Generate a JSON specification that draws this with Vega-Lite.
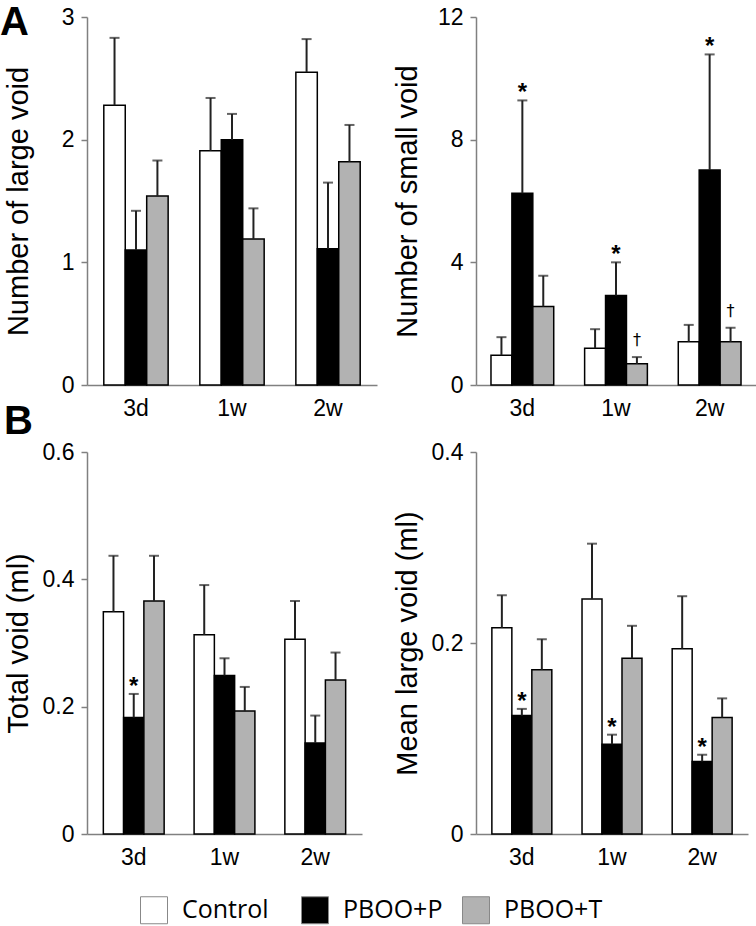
{
  "$schema": "https://vega.github.io/schema/vega-lite/v6.json",
  "padding": {"top": 3, "left": 0, "right": 0, "bottom": 0},
  "background": "white",
  "config": {
    "view": {"stroke": null},
    "font": "Liberation Sans",
    "axis": {
      "labelFont": "Liberation Sans",
      "labelFontSize": 23,
      "labelColor": "black",
      "titleFont": "Liberation Sans",
      "titleFontSize": 29,
      "titleFontWeight": "normal",
      "titleColor": "black",
      "domainColor": "#808080",
      "domainWidth": 1.5,
      "tickColor": "#808080",
      "tickWidth": 1.5,
      "grid": false
    },
    "axisX": {"ticks": false, "labelAngle": 0, "labelPadding": 12, "title": null},
    "axisY": {"tickSize": 6, "labelPadding": 7, "minExtent": 40, "maxExtent": 40, "titlePadding": 14, "format": "~g"},
    "legend": {
      "orient": "none",
      "legendX": 53,
      "legendY": 879,
      "direction": "horizontal",
      "title": null,
      "symbolType": "square",
      "symbolSize": 729,
      "symbolStrokeColor": "#888888",
      "symbolStrokeWidth": 1,
      "labelFont": "Open Sans",
      "labelFontSize": 25,
      "labelColor": "black",
      "labelOffset": 14,
      "columnPadding": 17,
      "gridAlign": "all"
    },
    "title": {"font": "Liberation Sans", "fontSize": 40, "fontWeight": "bold", "color": "black"}
  },
  "data": {
    "values": [
      {"metric": "large", "time": "3d", "group": "Control", "mean": 2.28, "upper": 2.83, "sig": ""},
      {"metric": "large", "time": "3d", "group": "PBOO+P", "mean": 1.10, "upper": 1.42, "sig": ""},
      {"metric": "large", "time": "3d", "group": "PBOO+T", "mean": 1.54, "upper": 1.83, "sig": ""},
      {"metric": "large", "time": "1w", "group": "Control", "mean": 1.91, "upper": 2.34, "sig": ""},
      {"metric": "large", "time": "1w", "group": "PBOO+P", "mean": 2.00, "upper": 2.21, "sig": ""},
      {"metric": "large", "time": "1w", "group": "PBOO+T", "mean": 1.19, "upper": 1.44, "sig": ""},
      {"metric": "large", "time": "2w", "group": "Control", "mean": 2.55, "upper": 2.82, "sig": ""},
      {"metric": "large", "time": "2w", "group": "PBOO+P", "mean": 1.11, "upper": 1.65, "sig": ""},
      {"metric": "large", "time": "2w", "group": "PBOO+T", "mean": 1.82, "upper": 2.12, "sig": ""},
      {"metric": "small", "time": "3d", "group": "Control", "mean": 0.97, "upper": 1.56, "sig": ""},
      {"metric": "small", "time": "3d", "group": "PBOO+P", "mean": 6.25, "upper": 9.28, "sig": "*"},
      {"metric": "small", "time": "3d", "group": "PBOO+T", "mean": 2.56, "upper": 3.56, "sig": ""},
      {"metric": "small", "time": "1w", "group": "Control", "mean": 1.20, "upper": 1.82, "sig": ""},
      {"metric": "small", "time": "1w", "group": "PBOO+P", "mean": 2.92, "upper": 4.00, "sig": "*"},
      {"metric": "small", "time": "1w", "group": "PBOO+T", "mean": 0.69, "upper": 0.91, "sig": "†"},
      {"metric": "small", "time": "2w", "group": "Control", "mean": 1.41, "upper": 1.96, "sig": ""},
      {"metric": "small", "time": "2w", "group": "PBOO+P", "mean": 7.01, "upper": 10.78, "sig": "*"},
      {"metric": "small", "time": "2w", "group": "PBOO+T", "mean": 1.41, "upper": 1.87, "sig": "†"},
      {"metric": "total", "time": "3d", "group": "Control", "mean": 0.349, "upper": 0.437, "sig": ""},
      {"metric": "total", "time": "3d", "group": "PBOO+P", "mean": 0.183, "upper": 0.220, "sig": "*"},
      {"metric": "total", "time": "3d", "group": "PBOO+T", "mean": 0.366, "upper": 0.437, "sig": ""},
      {"metric": "total", "time": "1w", "group": "Control", "mean": 0.313, "upper": 0.391, "sig": ""},
      {"metric": "total", "time": "1w", "group": "PBOO+P", "mean": 0.249, "upper": 0.276, "sig": ""},
      {"metric": "total", "time": "1w", "group": "PBOO+T", "mean": 0.193, "upper": 0.231, "sig": ""},
      {"metric": "total", "time": "2w", "group": "Control", "mean": 0.306, "upper": 0.366, "sig": ""},
      {"metric": "total", "time": "2w", "group": "PBOO+P", "mean": 0.143, "upper": 0.186, "sig": ""},
      {"metric": "total", "time": "2w", "group": "PBOO+T", "mean": 0.242, "upper": 0.285, "sig": ""},
      {"metric": "meanlarge", "time": "3d", "group": "Control", "mean": 0.216, "upper": 0.250, "sig": ""},
      {"metric": "meanlarge", "time": "3d", "group": "PBOO+P", "mean": 0.124, "upper": 0.131, "sig": "*"},
      {"metric": "meanlarge", "time": "3d", "group": "PBOO+T", "mean": 0.172, "upper": 0.204, "sig": ""},
      {"metric": "meanlarge", "time": "1w", "group": "Control", "mean": 0.246, "upper": 0.304, "sig": ""},
      {"metric": "meanlarge", "time": "1w", "group": "PBOO+P", "mean": 0.094, "upper": 0.104, "sig": "*"},
      {"metric": "meanlarge", "time": "1w", "group": "PBOO+T", "mean": 0.184, "upper": 0.218, "sig": ""},
      {"metric": "meanlarge", "time": "2w", "group": "Control", "mean": 0.194, "upper": 0.249, "sig": ""},
      {"metric": "meanlarge", "time": "2w", "group": "PBOO+P", "mean": 0.076, "upper": 0.083, "sig": "*"},
      {"metric": "meanlarge", "time": "2w", "group": "PBOO+T", "mean": 0.122, "upper": 0.142, "sig": ""}
    ]
  },
  "bounds": "flush",
  "columns": 2,
  "spacing": {"row": 67, "column": 99},
  "resolve": {"scale": {"x": "independent", "y": "independent", "xOffset": "independent"}},
  "concat": [
    {
      "width": 290, "height": 368,
      "title": {"text": "A", "anchor": "start", "frame": "group", "orient": "top", "baseline": "alphabetic", "offset": 0, "dx": -87, "dy": 69},
      "transform": [{"filter": "datum.metric === 'large'"}],
      "encoding": {
        "x": {"field": "time", "type": "nominal", "sort": ["3d", "1w", "2w"], "scale": {"paddingInner": 0.33, "paddingOuter": 0.175}, "title": null},
        "xOffset": {"field": "group", "type": "nominal", "sort": ["Control", "PBOO+P", "PBOO+T"], "scale": {"paddingInner": 0, "paddingOuter": 0}}
      },
      "layer": [
        {"mark": {"type": "bar", "stroke": "black", "strokeWidth": 1.5},
         "encoding": {
           "y": {"field": "mean", "type": "quantitative", "scale": {"domain": [0, 3], "nice": false}, "axis": {"values": [0, 1, 2, 3]}, "title": "Number of large void"},
           "fill": {"field": "group", "type": "nominal", "sort": ["Control", "PBOO+P", "PBOO+T"], "scale": {"domain": ["Control", "PBOO+P", "PBOO+T"], "range": ["white", "black", "#b2b2b2"]}}
         }},
        {"mark": {"type": "rule", "strokeWidth": 2, "color": "#222222"},
         "encoding": {"y": {"field": "mean", "type": "quantitative", "title": "Number of large void"}, "y2": {"field": "upper"}}},
        {"mark": {"type": "tick", "thickness": 2, "size": 10, "color": "#222222"},
         "encoding": {"y": {"field": "upper", "type": "quantitative", "title": "Number of large void"}}}
      ]
    },
    {
      "width": 280, "height": 368,
      "transform": [{"filter": "datum.metric === 'small'"}],
      "encoding": {
        "x": {"field": "time", "type": "nominal", "sort": ["3d", "1w", "2w"], "scale": {"paddingInner": 0.33, "paddingOuter": 0.16}, "title": null},
        "xOffset": {"field": "group", "type": "nominal", "sort": ["Control", "PBOO+P", "PBOO+T"], "scale": {"paddingInner": 0, "paddingOuter": 0}}
      },
      "layer": [
        {"mark": {"type": "bar", "stroke": "black", "strokeWidth": 1.5},
         "encoding": {
           "y": {"field": "mean", "type": "quantitative", "scale": {"domain": [0, 12], "nice": false}, "axis": {"values": [0, 4, 8, 12]}, "title": "Number of small void"},
           "fill": {"field": "group", "type": "nominal", "sort": ["Control", "PBOO+P", "PBOO+T"], "scale": {"domain": ["Control", "PBOO+P", "PBOO+T"], "range": ["white", "black", "#b2b2b2"]}}
         }},
        {"mark": {"type": "rule", "strokeWidth": 2, "color": "#222222"},
         "encoding": {"y": {"field": "mean", "type": "quantitative", "title": "Number of small void"}, "y2": {"field": "upper"}}},
        {"mark": {"type": "tick", "thickness": 2, "size": 10, "color": "#222222"},
         "encoding": {"y": {"field": "upper", "type": "quantitative", "title": "Number of small void"}}},
        {"transform": [{"filter": "datum.sig === '*'"}],
         "mark": {"type": "text", "fontSize": 24, "fontWeight": "bold", "font": "Liberation Sans", "baseline": "alphabetic", "dy": 0, "color": "black"},
         "encoding": {"y": {"field": "upper", "type": "quantitative", "title": "Number of small void"}, "text": {"field": "sig"}}},
        {"transform": [{"filter": "datum.sig === '†'"}],
         "mark": {"type": "text", "fontSize": 16, "font": "DejaVu Sans", "baseline": "middle", "dy": -17, "color": "black"},
         "encoding": {"y": {"field": "upper", "type": "quantitative", "title": "Number of small void"}, "text": {"field": "sig"}}}
      ]
    },
    {
      "width": 275, "height": 382,
      "title": {"text": "B", "anchor": "start", "frame": "group", "orient": "top", "baseline": "alphabetic", "offset": 0, "dx": -83, "dy": 33},
      "transform": [{"filter": "datum.metric === 'total'"}],
      "encoding": {
        "x": {"field": "time", "type": "nominal", "sort": ["3d", "1w", "2w"], "scale": {"paddingInner": 0.33, "paddingOuter": 0.18}, "title": null},
        "xOffset": {"field": "group", "type": "nominal", "sort": ["Control", "PBOO+P", "PBOO+T"], "scale": {"paddingInner": 0, "paddingOuter": 0}}
      },
      "layer": [
        {"mark": {"type": "bar", "stroke": "black", "strokeWidth": 1.5},
         "encoding": {
           "y": {"field": "mean", "type": "quantitative", "scale": {"domain": [0, 0.6], "nice": false}, "axis": {"values": [0, 0.2, 0.4, 0.6]}, "title": "Total void (ml)"},
           "fill": {"field": "group", "type": "nominal", "sort": ["Control", "PBOO+P", "PBOO+T"], "scale": {"domain": ["Control", "PBOO+P", "PBOO+T"], "range": ["white", "black", "#b2b2b2"]}}
         }},
        {"mark": {"type": "rule", "strokeWidth": 2, "color": "#222222"},
         "encoding": {"y": {"field": "mean", "type": "quantitative", "title": "Total void (ml)"}, "y2": {"field": "upper"}}},
        {"mark": {"type": "tick", "thickness": 2, "size": 10, "color": "#222222"},
         "encoding": {"y": {"field": "upper", "type": "quantitative", "title": "Total void (ml)"}}},
        {"transform": [{"filter": "datum.sig === '*'"}],
         "mark": {"type": "text", "fontSize": 24, "fontWeight": "bold", "font": "Liberation Sans", "baseline": "alphabetic", "dy": 0, "color": "black"},
         "encoding": {"y": {"field": "upper", "type": "quantitative", "title": "Total void (ml)"}, "text": {"field": "sig"}}}
      ]
    },
    {
      "width": 272, "height": 382,
      "transform": [{"filter": "datum.metric === 'meanlarge'"}],
      "encoding": {
        "x": {"field": "time", "type": "nominal", "sort": ["3d", "1w", "2w"], "scale": {"paddingInner": 0.335, "paddingOuter": 0.176}, "title": null},
        "xOffset": {"field": "group", "type": "nominal", "sort": ["Control", "PBOO+P", "PBOO+T"], "scale": {"paddingInner": 0, "paddingOuter": 0}}
      },
      "layer": [
        {"mark": {"type": "bar", "stroke": "black", "strokeWidth": 1.5},
         "encoding": {
           "y": {"field": "mean", "type": "quantitative", "scale": {"domain": [0, 0.4], "nice": false}, "axis": {"values": [0, 0.2, 0.4]}, "title": "Mean large void (ml)"},
           "fill": {"field": "group", "type": "nominal", "sort": ["Control", "PBOO+P", "PBOO+T"], "scale": {"domain": ["Control", "PBOO+P", "PBOO+T"], "range": ["white", "black", "#b2b2b2"]}}
         }},
        {"mark": {"type": "rule", "strokeWidth": 2, "color": "#222222"},
         "encoding": {"y": {"field": "mean", "type": "quantitative", "title": "Mean large void (ml)"}, "y2": {"field": "upper"}}},
        {"mark": {"type": "tick", "thickness": 2, "size": 10, "color": "#222222"},
         "encoding": {"y": {"field": "upper", "type": "quantitative", "title": "Mean large void (ml)"}}},
        {"transform": [{"filter": "datum.sig === '*'"}],
         "mark": {"type": "text", "fontSize": 24, "fontWeight": "bold", "font": "Liberation Sans", "baseline": "alphabetic", "dy": 0, "color": "black"},
         "encoding": {"y": {"field": "upper", "type": "quantitative", "title": "Mean large void (ml)"}, "text": {"field": "sig"}}}
      ]
    }
  ]
}
